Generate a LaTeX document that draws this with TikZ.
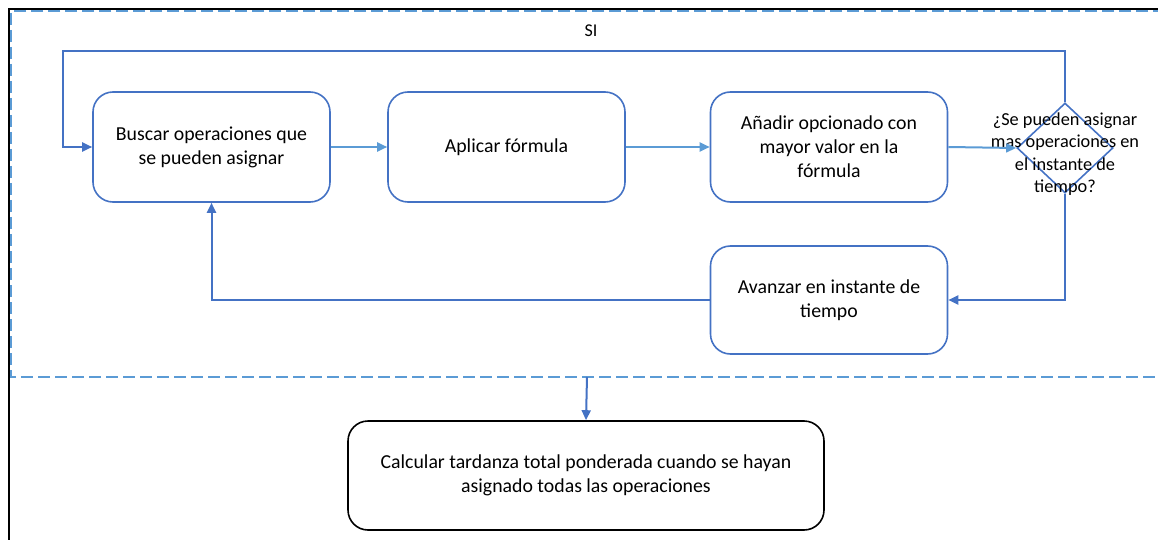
\documentclass[tikz,border=0pt]{standalone}
\usepackage{fontspec}
\setmainfont{Carlito}
\usetikzlibrary{shapes.geometric,arrows.meta}
\definecolor{dblue}{HTML}{4472C4}
\definecolor{lblue}{HTML}{5B9BD5}
\tikzset{
  proc/.style={draw=dblue, line width=1.6pt, rounded corners=20pt, fill=white,
    minimum width=237pt, minimum height=110pt, align=center, inner sep=0pt,
    font=\fontsize{19.8}{24}\selectfont},
  fin/.style={proc, draw=black, minimum width=476pt, minimum height=109pt},
  dec/.style={draw=dblue, shape=diamond, line width=1.6pt, minimum width=96pt,
    minimum height=90pt, inner sep=0pt},
  dectxt/.style={align=center, inner sep=0pt, font=\fontsize{18.3}{22.5}\selectfont},
  flow/.style={draw=lblue, line width=2pt, -{Triangle[length=10pt,width=9pt]}},
  loop/.style={draw=dblue, line width=2pt, -{Triangle[length=10pt,width=9pt]}},
  dashln/.style={draw=lblue, line width=2pt, dash pattern=on 12pt off 5pt},
}
\begin{document}
\begin{tikzpicture}[x=1pt,y=-1pt]
\useasboundingbox (0,0) rectangle (1158,540);
% frames
\draw[black, line width=2pt] (9,545) -- (9,9) -- (1165,9);
\draw[dashln] (1165,11) -- (11,11) -- (11,377) -- (1165,377);
% nodes
\node[proc] (b1) at (211.5,147) {Buscar operaciones que\\se pueden asignar};
\node[proc] (b2) at (506.5,147) {Aplicar fórmula};
\node[proc] (b3) at (829,147) {Añadir opcionado con\\mayor valor en la\\fórmula};
\node[dec] (d) at (1065,148) {};
\node[dectxt] (dt) at (1065,154) {¿Se pueden asignar\\mas operaciones en\\el instante de\\tiempo?};
\node[proc, minimum height=108pt] (b4) at (829,300) {Avanzar en instante de\\tiempo};
\node[fin] (b5) at (586,475.5) {Calcular tardanza total ponderada cuando se hayan\\asignado todas las operaciones};
\node[font=\fontsize{18}{22}\selectfont, inner sep=0pt] (si) at (591,31) {SI};
\coordinate (top) at (587,377);
% connectors
\draw[flow] (b1.east) -- (b2.west);
\draw[flow] (b2.east) -- (b3.west);
\draw[flow] (b3.east) -- (d.west);
\draw[loop] (d.north) |- (63,51) |- (b1.west);
\draw[loop] (d.south) |- (b4.east);
\draw[loop] (b4.west) -| (b1.south);
\draw[loop] (top) -- (b5.north);
\end{tikzpicture}
\end{document}
